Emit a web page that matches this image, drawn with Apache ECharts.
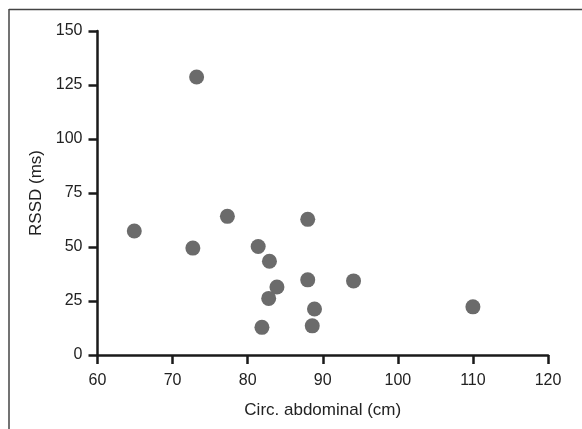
<!DOCTYPE html>
<html>
<head>
<meta charset="utf-8">
<script src="https://cdn.jsdelivr.net/npm/echarts@6/dist/echarts.min.js"></script>
<style>
html,body{margin:0;padding:0;background:#fff;}
#chart{width:582px;height:429px;}
</style>
</head>
<body>
<div id="chart"></div>
<script>
// Circ. abdominal (cm)
const waist = [73.2, 64.9, 72.7, 77.3, 81.4, 82.9, 83.9, 82.8, 81.9, 88.0, 88.0, 94.1, 88.9, 88.6, 110.0];
// RSSD (ms)
const rssd  = [128.7, 57.4, 49.5, 64.2, 50.2, 43.4, 31.5, 26.2, 12.8, 62.8, 34.8, 34.3, 21.3, 13.5, 22.3];
const xTicks = [60, 70, 80, 90, 100, 110, 120];
const yTicks = [0, 25, 50, 75, 100, 125, 150];

const points = waist.map((w, i) => [w, rssd[i]]);
const font = '"Liberation Sans", Arial, sans-serif';

const chart = echarts.init(document.getElementById('chart'), null, {renderer: 'canvas'});
chart.setOption({
  backgroundColor: '#fff',
  animation: false,
  graphic: [
    {type: 'line', shape: {x1: 9, y1: 9.5, x2: 582, y2: 9.5}, style: {stroke: '#444', lineWidth: 1.5}},
    {type: 'line', shape: {x1: 9, y1: 9, x2: 9, y2: 429}, style: {stroke: '#444', lineWidth: 1.5}}
  ],
  grid: {left: 97.5, right: 34, top: 31, bottom: 74, containLabel: false},
  xAxis: {
    type: 'value',
    min: xTicks[0], max: xTicks[xTicks.length - 1], interval: 10,
    name: 'Circ. abdominal (cm)',
    nameLocation: 'middle', nameGap: 47,
    nameTextStyle: {fontFamily: font, fontSize: 17, color: '#222'},
    axisLine: {show: true, onZero: false, lineStyle: {color: '#1a1a1a', width: 2.5}},
    axisTick: {show: true, length: 9, lineStyle: {color: '#1a1a1a', width: 2.5}},
    axisLabel: {fontFamily: font, fontSize: 16, color: '#222', margin: 18},
    splitLine: {show: false}
  },
  yAxis: {
    type: 'value',
    min: yTicks[0], max: yTicks[yTicks.length - 1], interval: 25,
    name: 'RSSD (ms)',
    nameLocation: 'middle', nameGap: 53,
    nameTextStyle: {fontFamily: font, fontSize: 17, color: '#222'},
    axisLine: {show: true, onZero: false, lineStyle: {color: '#1a1a1a', width: 2.5}},
    axisTick: {show: true, length: 9, lineStyle: {color: '#1a1a1a', width: 2.5}},
    axisLabel: {fontFamily: font, fontSize: 16, color: '#222', margin: 15},
    splitLine: {show: false}
  },
  series: [{
    type: 'scatter',
    data: points,
    symbol: 'circle',
    symbolSize: 15,
    itemStyle: {color: '#6b6b6b', opacity: 1}
  }]
});
</script>
</body>
</html>
